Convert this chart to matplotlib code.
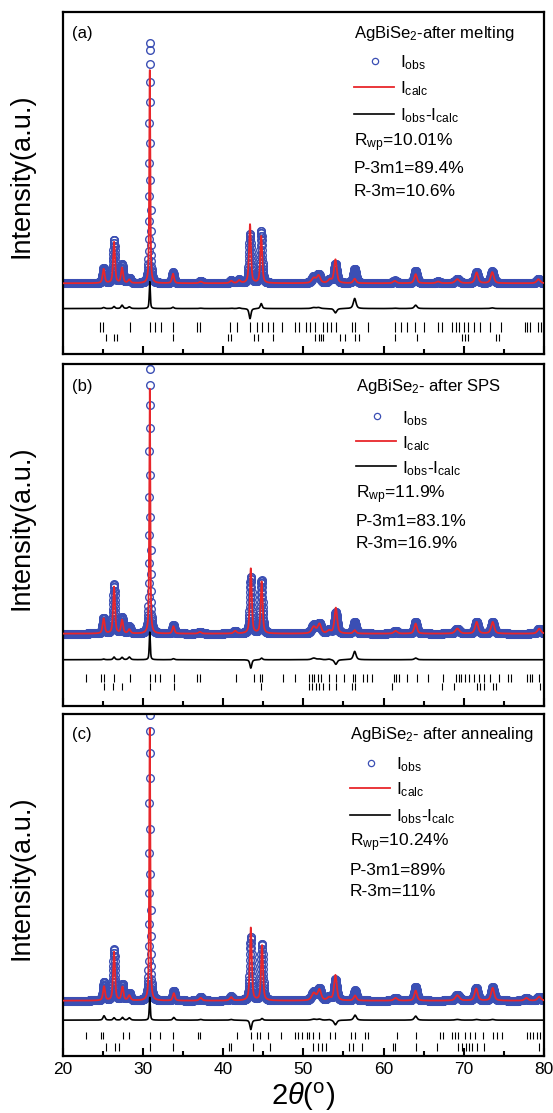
import matplotlib.pyplot as plt
import numpy as np

plt.rcParams['font.family'] = ['Liberation Sans', 'DejaVu Sans']
plt.rcParams['mathtext.fontset'] = 'custom'
plt.rcParams['mathtext.rm'] = 'Liberation Sans'
plt.rcParams['mathtext.it'] = 'Liberation Sans:italic'
plt.rcParams['mathtext.default'] = 'regular'

two_theta = np.arange(20, 80.001, 0.02)

# (a) after melting: peak position, observed / calculated height, FWHM
pos_a = [25.1, 26.4, 27.4, 28.3, 30.855, 33.75, 37.2, 41.0, 42.0, 43.35, 44.75,
         51.3, 51.9, 53.3, 54.0, 56.4, 61.4, 64.0, 66.8, 69.2, 71.6, 73.55, 79.3]
obs_a = [45, 128, 55, 15, 715, 32, 6, 8, 10, 145, 155,
         18, 25, 10, 57, 43, 8, 37, 5, 12, 32, 35, 12]
calc_a = [42, 122, 45, 10, 635, 28, 5, 7, 8, 175, 140,
          15, 22, 10, 70, 13, 7, 27, 5, 12, 32, 33, 12]
fwhm_a = [0.3, 0.28, 0.3, 0.35, 0.15, 0.3, 0.4, 0.4, 0.4, 0.28, 0.28,
          0.6, 0.5, 0.5, 0.4, 0.4, 0.5, 0.4, 0.5, 0.6, 0.45, 0.45, 0.5]
p3m1_a = [24.70, 25.00, 28.43, 30.84, 31.50, 32.25, 33.78, 36.77, 37.07, 40.80, 41.68,
          43.35, 44.23, 44.89, 45.54, 46.20, 47.30, 48.97, 49.49, 50.28, 50.81, 51.47,
          52.48, 53.01, 53.44, 54.10, 56.08, 56.43, 58.05, 61.43, 62.22, 62.88, 63.98,
          65.08, 66.83, 67.27, 68.59, 69.03, 69.46, 69.99, 70.56, 71.22, 71.97, 73.33,
          74.65, 77.59, 77.89, 78.24, 79.25, 79.65]
r3m_a = [25.35, 26.45, 26.80, 33.78, 40.63, 40.94, 43.88, 44.32, 46.20, 51.47, 51.91,
         52.22, 52.48, 54.54, 55.20, 56.43, 56.96, 61.43, 64.11, 69.82, 70.12, 70.56,
         74.07, 74.42]

# (b) after SPS
pos_b = [25.1, 26.4, 27.4, 28.3, 30.855, 33.8, 37.1, 41.5, 43.45, 44.8,
         51.3, 52.0, 53.2, 54.05, 56.4, 61.5, 64.0, 69.2, 71.6, 73.6, 79.4]
obs_b = [47, 148, 47, 20, 818, 25, 5, 8, 170, 160,
         25, 30, 10, 63, 35, 8, 35, 15, 35, 35, 15]
calc_b = [45, 140, 40, 12, 735, 22, 5, 8, 195, 155,
          20, 28, 8, 77, 10, 8, 30, 15, 35, 35, 15]
fwhm_b = [0.3, 0.28, 0.3, 0.35, 0.15, 0.3, 0.4, 0.4, 0.28, 0.28,
          0.6, 0.5, 0.5, 0.4, 0.4, 0.5, 0.4, 0.6, 0.45, 0.45, 0.5]
p3m1_b = [22.85, 24.83, 25.14, 26.36, 28.43, 30.84, 31.50, 32.16, 33.83, 36.77, 37.07,
          41.60, 43.79, 44.54, 44.80, 47.52, 48.97, 50.72, 51.03, 51.38, 51.82, 52.22,
          53.23, 54.10, 55.11, 56.21, 56.43, 57.40, 57.92, 58.58, 61.26, 61.57, 61.92,
          62.97, 64.11, 65.52, 67.40, 69.03, 69.38, 69.69, 70.12, 70.70, 71.22, 71.88,
          72.54, 73.29, 74.43, 75.52, 75.83, 77.94, 78.24, 78.55, 79.34]
r3m_b = [25.14, 26.32, 27.42, 30.84, 33.83, 44.67, 50.72, 51.12, 51.56, 52.00, 52.48,
         53.23, 54.10, 56.08, 56.43, 61.00, 67.27, 68.81, 71.66, 72.01, 72.54, 73.64,
         74.07, 79.56]

# (c) after annealing
pos_c = [25.15, 26.4, 27.45, 28.3, 30.855, 33.85, 37.2, 41.0, 43.45, 44.85,
         51.3, 52.0, 53.2, 54.0, 56.45, 61.5, 64.0, 69.2, 71.55, 73.6, 77.8, 79.4]
obs_c = [55, 152, 48, 22, 883, 30, 10, 12, 190, 170,
         25, 35, 10, 62, 30, 8, 42, 18, 38, 40, 8, 12]
calc_c = [42, 145, 40, 15, 815, 22, 8, 10, 218, 165,
          22, 32, 8, 76, 15, 8, 30, 16, 36, 38, 8, 12]
fwhm_c = [0.3, 0.28, 0.3, 0.35, 0.15, 0.3, 0.4, 0.4, 0.28, 0.28,
          0.6, 0.5, 0.5, 0.4, 0.4, 0.5, 0.4, 0.6, 0.45, 0.45, 0.5, 0.5]
p3m1_c = [22.91, 24.78, 25.07, 27.56, 28.31, 30.88, 32.13, 33.79, 36.91, 37.12, 41.69,
          43.47, 44.18, 44.59, 45.63, 47.21, 48.96, 49.37, 49.79, 50.41, 50.74, 51.24,
          51.99, 53.32, 53.94, 55.99, 56.41, 57.68, 58.10, 61.63, 64.04, 67.03, 67.45,
          68.48, 68.90, 69.31, 70.15, 70.77, 71.39, 72.43, 73.59, 74.09, 74.72, 77.83,
          78.24, 78.58, 79.07, 79.49]
r3m_c = [25.40, 26.52, 27.06, 30.88, 33.79, 40.77, 40.98, 43.68, 45.84, 51.24, 51.87,
         52.28, 52.82, 55.73, 56.23, 57.27, 61.13, 61.42, 64.04, 66.61, 69.31, 69.73,
         70.27, 70.69, 70.98, 71.60, 72.56, 79.41]

titles = ['AgBiSe$_2$-after melting', 'AgBiSe$_2$- after SPS', 'AgBiSe$_2$- after annealing']
rwp = ['10.01%', '11.9%', '10.24%']
p3m1_frac = ['89.4%', '83.1%', '89%']
r3m_frac = ['10.6%', '16.9%', '11%']
letters = ['(a)', '(b)', '(c)']


def pattern(x, pos, h, w):
    y = np.zeros_like(x)
    for p, hh, ww in zip(pos, h, w):
        d = (2 * (x - p) / ww) ** 2
        y += hh * (0.6 / (1 + d) + 0.4 * np.exp(-np.log(2) * d))
    return y


panels = [
    (pos_a, obs_a, calc_a, fwhm_a, p3m1_a, r3m_a),
    (pos_b, obs_b, calc_b, fwhm_b, p3m1_b, r3m_b),
    (pos_c, obs_c, calc_c, fwhm_c, p3m1_c, r3m_c),
]
# layout per panel: ylim, diff offset, tick rows, legend x / y anchors
ylims = [(-210, 805), (-215, 808), (-165, 855)]
diff_off = [-75, -78, -58]
row1 = [(-145, -115), (-145, -120), (-115, -93)]
row2 = [(-170, -150), (-170, -148), (-150, -127)]
leg_x = [0.605, 0.609, 0.597]
leg_y = [[0.936, 0.857, 0.781, 0.703, 0.618, 0.542, 0.475],
         [0.934, 0.846, 0.772, 0.699, 0.616, 0.538, 0.474],
         [0.941, 0.858, 0.784, 0.706, 0.623, 0.543, 0.480]]
bottoms = [0.6819, 0.3661, 0.0512]

blue = '#3b4fb4'
red = '#e8262b'

fig = plt.figure(figsize=(5.53, 11.13), dpi=100)

for i, (pos, ho, hc, fw, t1, t2) in enumerate(panels):
    ax = fig.add_axes([0.1134, bottoms[i], 0.8703, 0.3073])
    yo = pattern(two_theta, pos, ho, fw)
    yc = pattern(two_theta, pos, hc, fw)

    ax.plot(two_theta, yo, 'o', ms=5.5, mfc='none', mec=blue, mew=1.0, zorder=2)
    ax.plot(two_theta, yc, '-', color=red, lw=1.3, zorder=3)
    ax.plot(two_theta, yo - yc + diff_off[i], '-', color='k', lw=1.2, zorder=3)
    ax.vlines(t1, row1[i][0], row1[i][1], color='k', lw=0.8)
    ax.vlines(t2, row2[i][0], row2[i][1], color='k', lw=0.8)

    ax.set_xlim(20, 80)
    ax.set_ylim(*ylims[i])
    ax.set_yticks([])
    ax.set_xticks(range(20, 81, 10))
    ax.set_xticks(range(25, 80, 10), minor=True)
    ax.tick_params(axis='x', which='both', direction='in', width=1.5,
                   labelsize=12.5, labelbottom=(i == 2), pad=4)
    ax.tick_params(axis='x', which='major', length=6)
    ax.tick_params(axis='x', which='minor', length=3.5)
    for s in ax.spines.values():
        s.set_linewidth(1.6)
    ax.set_ylabel('Intensity(a.u.)', fontsize=19.5)
    ax.yaxis.set_label_coords(-0.058, 0.52)

    ax.text(0.02, leg_y[i][0], letters[i], transform=ax.transAxes, fontsize=12,
            va='center', ha='left')
    lx = leg_x[i]
    ly = leg_y[i]
    ax.text(lx, ly[0], titles[i], transform=ax.transAxes, fontsize=12, va='center')
    ax.plot([lx + 0.043], [ly[1]], 'o', ms=4.5, mfc='none', mec=blue, mew=0.9,
            transform=ax.transAxes)
    ax.plot([lx, lx + 0.084], [ly[2], ly[2]], color=red, lw=1.3, transform=ax.transAxes)
    ax.plot([lx, lx + 0.084], [ly[3], ly[3]], color='k', lw=1.2, transform=ax.transAxes)
    ax.text(lx + 0.096, ly[1] - 0.02, 'I$_{obs}$', transform=ax.transAxes, fontsize=12.5)
    ax.text(lx + 0.096, ly[2] - 0.02, 'I$_{calc}$', transform=ax.transAxes, fontsize=12.5)
    ax.text(lx + 0.096, ly[3] - 0.02, 'I$_{obs}$-I$_{calc}$', transform=ax.transAxes,
            fontsize=12.5)
    ax.text(lx, ly[4], 'R$_{wp}$=' + rwp[i], transform=ax.transAxes, fontsize=12.5,
            va='center')
    ax.text(lx, ly[5], 'P-3m1=' + p3m1_frac[i], transform=ax.transAxes, fontsize=12.5,
            va='center')
    ax.text(lx, ly[6], 'R-3m=' + r3m_frac[i], transform=ax.transAxes, fontsize=12.5,
            va='center')

ax.set_xlabel(r'2$\it{\theta}$($^{o}$)', fontsize=21, labelpad=3)

fig.savefig('out.png', dpi=100)
